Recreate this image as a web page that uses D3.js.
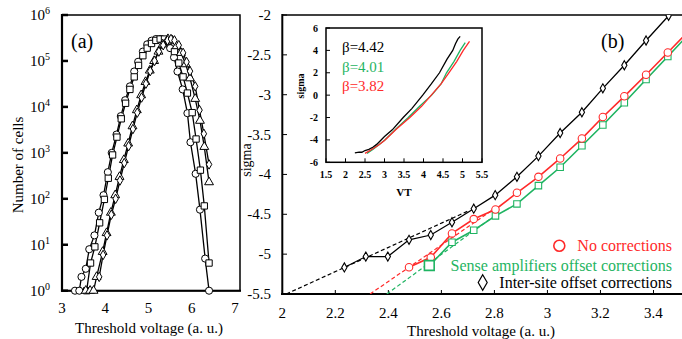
<!DOCTYPE html>
<html>
<head>
<meta charset="utf-8" />
<title>Threshold voltage</title>
<script src="https://cdn.jsdelivr.net/npm/d3@7"></script>
<style>
  body { margin: 0; background: #fff; }
</style>
</head>
<body>
<script>
// ---- panel (a): histograms ----
var circX = [3.30,3.40,3.45,3.55,3.63,3.75,3.85,3.96,4.06,4.15,4.26,4.36,4.46,4.57,4.67,4.76,4.87,4.97,5.07,5.17,5.27,5.38,5.50,5.59,5.67,5.79,5.90,5.97,6.09,6.19,6.31,6.40];
var circV = [1,1,2,3,8,16,50,120,380,1000,2500,6300,14000,28000,59000,96000,160000,230000,276000,300000,300000,270000,190000,120000,59000,24000,7300,1700,350,58,5,1];
var sqX = [3.57,3.66,3.76,3.87,3.98,4.07,4.17,4.27,4.37,4.47,4.57,4.67,4.77,4.87,4.97,5.07,5.17,5.27,5.37,5.47,5.60,5.70,5.80,5.90,6.01,6.10,6.20,6.29,6.40];
var sqV = [1,4,9,30,97,280,900,2200,5500,12000,24000,45000,80000,130000,190000,240000,280000,300000,300000,270000,160000,90000,45000,20000,7500,2000,420,70,4];
var triX = [3.55,3.65,3.73,3.80,3.94,4.03,4.13,4.23,4.33,4.43,4.53,4.63,4.73,4.83,4.93,5.03,5.13,5.23,5.33,5.45,5.55,5.65,5.75,5.86,5.96,6.08,6.19,6.29,6.40];
var triV = [1,1,1,2,7,18,50,120,300,700,1600,3800,8500,18000,35000,62000,100000,160000,230000,300000,280000,210000,150000,85000,42000,15000,5000,1350,230];
var diaX = [3.86,3.95,4.04,4.14,4.24,4.34,4.44,4.54,4.64,4.74,4.84,4.94,5.04,5.14,5.24,5.34,5.44,5.52,5.60,5.70,5.80,5.88,5.96,6.08,6.18,6.28,6.40];
var diaV = [2,6,16,45,100,250,600,1400,3300,7500,16000,32000,60000,100000,160000,220000,280000,300000,280000,220000,150000,95000,60000,28000,8500,2600,560];
var aXTicks = [3,4,5,6,7];
var aYTicks = [0,1,2,3,4,5,6];

// ---- panel (b): sigma plot ----
var interX = [2.234,2.315,2.398,2.478,2.56,2.64,2.722,2.803,2.885,2.966,3.048,3.13,3.209,3.29,3.372,3.457];
var interY = [-5.167,-5.03,-5.03,-4.82,-4.76,-4.60,-4.43,-4.26,-4.03,-3.77,-3.48,-3.22,-2.92,-2.63,-2.32,-2.01];
var noCorrX = [2.478,2.56,2.64,2.722,2.804,2.885,2.966,3.048,3.13,3.209,3.29,3.372,3.454,3.536];
var noCorrY = [-5.165,-5.04,-4.74,-4.56,-4.44,-4.23,-4.03,-3.80,-3.55,-3.28,-3.02,-2.75,-2.47,-2.19];
var senseX = [2.555,2.64,2.722,2.804,2.885,2.966,3.048,3.13,3.209,3.29,3.372,3.454,3.536];
var senseY = [-5.145,-4.85,-4.70,-4.52,-4.37,-4.14,-3.91,-3.64,-3.38,-3.10,-2.81,-2.52,-2.23];
// dashed fits: [x0, y0, x1, y1]
var fitInter = [2.015,-5.5,2.70,-4.46];
var fitNoCorr = [2.331,-5.5,2.80,-4.43];
var fitSense = [2.394,-5.5,2.80,-4.52];
var bXTicks = [2,2.2,2.4,2.6,2.8,3,3.2,3.4];
var bYTicks = [-2,-2.5,-3,-3.5,-4,-4.5,-5,-5.5];

// ---- inset ----
var insBlackX = [2.24,2.35,2.42,2.5,2.6,2.7,2.8,2.9,3.0,3.2,3.48,3.7,3.98,4.2,4.41,4.6,4.75,4.82,4.88,4.94];
var insBlackY = [-5.16,-5.1,-5.1,-4.95,-4.85,-4.65,-4.4,-4.05,-3.7,-3.1,-2.0,-1.2,0,1.0,2.0,3.2,4.0,4.6,5.0,5.25];
var insGreenX = [2.55,2.7,2.85,3.01,3.3,3.61,3.9,4.21,4.45,4.59,4.78,4.94,5.07];
var insGreenY = [-5.2,-4.85,-4.45,-4.0,-3.0,-2.0,-1.0,0,1.0,2.0,3.0,4.0,4.7];
var insRedX = [2.5,2.65,2.85,3.0,3.3,3.65,3.95,4.2,4.45,4.65,4.85,5.02,5.18];
var insRedY = [-5.2,-4.9,-4.45,-4.05,-3.05,-2.0,-1.0,0,1.0,2.0,3.0,4.0,4.8];
var insXTicks = [1.5,2,2.5,3,3.5,4,4.5,5,5.5];
var insYTicks = [-6,-4,-2,0,2,4,6];
var betas = ["β=4.42","β=4.01","β=3.82"];

var RED = "#ff2a2a", GREEN = "#1fb462";
var SERIF = "Liberation Serif";

var svg = d3.select("body").append("svg")
  .attr("width", 682).attr("height", 339)
  .attr("font-family", SERIF);
svg.append("rect").attr("width", 682).attr("height", 339).attr("fill", "#fff");

function zip(xs, ys) { return xs.map(function(x, i){ return [x, ys[i]]; }); }

// ================= panel (a) =================
var ax = d3.scaleLinear().domain([3, 7]).range([62, 235]);
var ay = d3.scaleLog().domain([1, 1e6]).range([290.7, 15]);
var ga = svg.append("g");

ga.append("rect").attr("x", 62).attr("y", 15).attr("width", 178).attr("height", 275.7)
  .attr("fill", "none").attr("stroke", "#000").attr("stroke-width", 1.5);
ga.append("line").attr("x1", 62).attr("x2", 62).attr("y1", 14).attr("y2", 291.7)
  .attr("stroke", "#000").attr("stroke-width", 2.2);
ga.append("line").attr("x1", 61).attr("x2", 241).attr("y1", 290.7).attr("y2", 290.7)
  .attr("stroke", "#000").attr("stroke-width", 2);

aYTicks.forEach(function(p){
  var y = ay(Math.pow(10, p));
  ga.append("line").attr("x1", 62).attr("x2", 68).attr("y1", y).attr("y2", y)
    .attr("stroke", "#000").attr("stroke-width", 2.5);
  var t = ga.append("text").attr("x", 50).attr("y", y + 5).attr("text-anchor", "end")
    .attr("font-family", SERIF).attr("font-size", 15);
  t.append("tspan").text("10");
  t.append("tspan").attr("dy", -6).attr("font-size", 10).text(p);
});
aXTicks.forEach(function(v){
  ga.append("text").attr("x", ax(v)).attr("y", 313).attr("text-anchor", "middle")
    .attr("font-family", SERIF).attr("font-size", 15).text(v);
});
ga.append("text").attr("x", 149).attr("y", 333).attr("text-anchor", "middle")
  .attr("font-family", SERIF).attr("font-size", 15).text("Threshold voltage (a. u.)");
ga.append("text").attr("transform", "translate(23,165) rotate(-90)")
  .attr("text-anchor", "middle").attr("font-family", SERIF).attr("font-size", 15).text("Number of cells");
ga.append("text").attr("x", 71).attr("y", 48).attr("font-family", SERIF).attr("font-size", 20).text("(a)");

var lineA = d3.line().x(function(d){ return ax(d[0]); }).y(function(d){ return ay(d[1]); });
var seriesA = [
  { pts: zip(circX, circV), sym: d3.symbolCircle, size: 40 },
  { pts: zip(sqX, sqV), sym: d3.symbolSquare, size: 40 },
  { pts: zip(triX, triV), sym: d3.symbolTriangle, size: 34 },
  { pts: zip(diaX, diaV), sym: d3.symbolDiamond, size: 26 }
];
seriesA.forEach(function(s){
  ga.append("path").attr("d", lineA(s.pts)).attr("fill", "none")
    .attr("stroke", "#000").attr("stroke-width", 1.3);
});
seriesA.forEach(function(s){
  ga.selectAll(null).data(s.pts).enter().append("path")
    .attr("d", d3.symbol().type(s.sym).size(s.size))
    .attr("transform", function(d){ return "translate(" + ax(d[0]) + "," + ay(d[1]) + ")"; })
    .attr("fill", "#fff").attr("stroke", "#000").attr("stroke-width", 1);
});

// ================= panel (b) =================
var bx = d3.scaleLinear().domain([2, 3.5]).range([282.3, 680]);
var by = d3.scaleLinear().domain([-5.5, -2]).range([294, 15]);
var gb = svg.append("g");

svg.append("clipPath").attr("id", "clipb").append("rect")
  .attr("x", 282.3).attr("y", 15).attr("width", 400).attr("height", 279);

gb.append("line").attr("x1", 282.3).attr("x2", 682).attr("y1", 15).attr("y2", 15)
  .attr("stroke", "#000").attr("stroke-width", 1.5);
gb.append("line").attr("x1", 282.3).attr("x2", 282.3).attr("y1", 14).attr("y2", 295)
  .attr("stroke", "#000").attr("stroke-width", 2);
gb.append("line").attr("x1", 281).attr("x2", 682).attr("y1", 294).attr("y2", 294)
  .attr("stroke", "#000").attr("stroke-width", 2);

bYTicks.forEach(function(v){
  gb.append("line").attr("x1", 282.3).attr("x2", 287).attr("y1", by(v)).attr("y2", by(v))
    .attr("stroke", "#000").attr("stroke-width", 1);
  gb.append("text").attr("x", 271).attr("y", by(v) + 5).attr("text-anchor", "end")
    .attr("font-family", SERIF).attr("font-size", 15).text(v);
});
bXTicks.forEach(function(v){
  gb.append("line").attr("x1", bx(v)).attr("x2", bx(v)).attr("y1", 294).attr("y2", 290)
    .attr("stroke", "#000").attr("stroke-width", 1);
  gb.append("text").attr("x", bx(v)).attr("y", 318).attr("text-anchor", "middle")
    .attr("font-family", SERIF).attr("font-size", 15).text(v);
});
gb.append("text").attr("x", 481).attr("y", 336).attr("text-anchor", "middle")
  .attr("font-family", SERIF).attr("font-size", 15).text("Threshold voltage (a. u.)");
gb.append("text").attr("transform", "translate(251,160) rotate(-90)")
  .attr("text-anchor", "middle").attr("font-family", SERIF).attr("font-size", 14).text("sigma");
gb.append("text").attr("x", 601).attr("y", 48).attr("font-family", SERIF).attr("font-size", 20).text("(b)");

var plotB = gb.append("g").attr("clip-path", "url(#clipb)");
var lineB = d3.line().x(function(d){ return bx(d[0]); }).y(function(d){ return by(d[1]); });

[[fitInter, "#000"], [fitNoCorr, RED], [fitSense, GREEN]].forEach(function(f){
  var a = f[0];
  plotB.append("path").attr("d", lineB([[a[0], a[1]], [a[2], a[3]]]))
    .attr("fill", "none").attr("stroke", f[1]).attr("stroke-width", 1.2)
    .attr("stroke-dasharray", "4,2.5");
});

var seriesB = [
  { pts: zip(senseX, senseY), col: GREEN, sym: d3.symbolSquare, size: 42, w: 1.6 },
  { pts: zip(noCorrX, noCorrY), col: RED, sym: d3.symbolCircle, size: 44, w: 1.6 },
  { pts: zip(interX, interY), col: "#000", sym: d3.symbolDiamond, size: 24, w: 1.3 }
];
seriesB.forEach(function(s){
  plotB.append("path").attr("d", lineB(s.pts)).attr("fill", "none")
    .attr("stroke", s.col).attr("stroke-width", s.w);
  plotB.selectAll(null).data(s.pts).enter().append("path")
    .attr("d", d3.symbol().type(s.sym).size(s.size))
    .attr("transform", function(d){ return "translate(" + bx(d[0]) + "," + by(d[1]) + ")"; })
    .attr("fill", "#fff").attr("stroke", s.col).attr("stroke-width", 1.1);
});

// legend
var leg = [
  { t: "No corrections", col: RED, sym: d3.symbolCircle, size: 95, mx: 559.3, y: 245.7 },
  { t: "Sense amplifiers offset corrections", col: GREEN, sym: d3.symbolSquare, size: 95, mx: 429.3, y: 265.5 },
  { t: "Inter-site offset corrections", col: "#000", sym: d3.symbolDiamond, size: 70, mx: 482.7, y: 282.5 }
];
leg.forEach(function(l){
  gb.append("path").attr("d", d3.symbol().type(l.sym).size(l.size))
    .attr("transform", "translate(" + l.mx + "," + l.y + ")")
    .attr("fill", "#fff").attr("stroke", l.col).attr("stroke-width", l.col === "#000" ? 1.2 : 1.6);
  gb.append("text").attr("x", 672).attr("y", l.y + 5.5).attr("text-anchor", "end")
    .attr("font-family", SERIF).attr("font-size", 16).attr("fill", l.col).text(l.t);
});

// ================= inset =================
var ix = d3.scaleLinear().domain([1.5, 5.5]).range([326, 482]);
var iy = d3.scaleLinear().domain([-6, 6]).range([162.3, 28]);
var gi = svg.append("g");
gi.append("rect").attr("x", 326).attr("y", 28).attr("width", 156).attr("height", 134.3)
  .attr("fill", "#fff").attr("stroke", "#000").attr("stroke-width", 1.5);
insYTicks.forEach(function(v){
  gi.append("line").attr("x1", 326).attr("x2", 330).attr("y1", iy(v)).attr("y2", iy(v))
    .attr("stroke", "#000").attr("stroke-width", 1);
  gi.append("text").attr("x", 318).attr("y", iy(v) + 3.5).attr("text-anchor", "end")
    .attr("font-family", SERIF).attr("font-size", 10).attr("font-weight", "bold").text(v);
});
insXTicks.forEach(function(v){
  gi.append("line").attr("x1", ix(v)).attr("x2", ix(v)).attr("y1", 162.3).attr("y2", 158.3)
    .attr("stroke", "#000").attr("stroke-width", 1);
  gi.append("text").attr("x", ix(v)).attr("y", 177.5).attr("text-anchor", "middle")
    .attr("font-family", SERIF).attr("font-size", 10).attr("font-weight", "bold").text(v);
});
gi.append("text").attr("x", 404).attr("y", 195.5).attr("text-anchor", "middle")
  .attr("font-family", SERIF).attr("font-size", 11).attr("font-weight", "bold").text("VT");
gi.append("text").attr("transform", "translate(304,86) rotate(-90)")
  .attr("text-anchor", "middle").attr("font-family", SERIF).attr("font-size", 10)
  .attr("font-weight", "bold").text("sigma");

var lineI = d3.line().x(function(d){ return ix(d[0]); }).y(function(d){ return iy(d[1]); });
[[insGreenX, insGreenY, GREEN], [insRedX, insRedY, RED], [insBlackX, insBlackY, "#000"]].forEach(function(c){
  gi.append("path").attr("d", lineI(zip(c[0], c[1]))).attr("fill", "none")
    .attr("stroke", c[2]).attr("stroke-width", 1.3);
});
[["#000", 52], [GREEN, 72], [RED, 91]].forEach(function(b, i){
  gi.append("text").attr("x", 342).attr("y", b[1]).attr("font-family", SERIF)
    .attr("font-size", 15).attr("fill", b[0]).text(betas[i]);
});
</script>
</body>
</html>
